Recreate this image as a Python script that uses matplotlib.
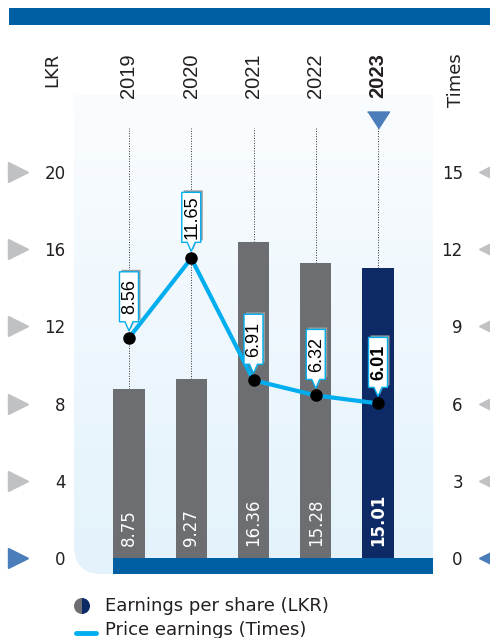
import numpy as np
import matplotlib.pyplot as plt
from matplotlib.path import Path
from matplotlib.patches import PathPatch, Polygon, Rectangle, Wedge
from matplotlib.transforms import Affine2D, blended_transform_factory

years = ["2019", "2020", "2021", "2022", "2023"]
eps = [8.75, 9.27, 16.36, 15.28, 15.01]          # LKR
pe_ratio = [8.56, 11.65, 6.91, 6.32, 6.01]       # Times
lkr_ticks = [0, 4, 8, 12, 16, 20]
times_ticks = [0, 3, 6, 9, 12, 15]

GREY_BAR = "#6d6e71"
NAVY = "#0d2a66"
CYAN = "#00aeef"
BAND = "#005ea2"
TRI_GREY = "#c0c1c3"
TRI_BLUE = "#4a7dba"
TEXT = "#231f20"
ROUND_FONT = "DejaVu Sans"
ARIAL_FONT = "Liberation Sans"

W, H = 490, 638
fig = plt.figure(figsize=(W / 100, H / 100), dpi=100)

# pixel-space layer for the page decorations and legend
deco = fig.add_axes([0, 0, 1, 1])
deco.set_xlim(0, W)
deco.set_ylim(H, 0)
deco.axis("off")
deco.add_patch(Rectangle((9, 8), W - 9, 17, color=BAND, lw=0))

# main plot area
left, right, top, bottom = 74, 433, 95, 574
ax = fig.add_axes([left / W, 1 - bottom / H, (right - left) / W, (bottom - top) / H])
ax.set_facecolor("none")
xlim = (-0.8835, 4.8835)
ylim = (-0.83, 24.0)
for s in ax.spines.values():
    s.set_visible(False)

# gradient panel with a rounded lower-left corner
rx, ry = 28 / (right - left), 28 / (bottom - top)
panel_path = Path([(0, 1), (0, ry), (0, 0), (rx, 0), (1, 0), (1, 1), (0, 1)],
                  [Path.MOVETO, Path.LINETO, Path.CURVE3, Path.CURVE3,
                   Path.LINETO, Path.LINETO, Path.CLOSEPOLY])
panel = PathPatch(panel_path, transform=ax.transAxes, facecolor="none", edgecolor="none")
ax.add_patch(panel)
top_c = np.array([0.98, 0.99, 1.0])
bot_c = np.array([0.89, 0.95, 0.985])
t = np.linspace(0, 1, 256)[:, None]
grad = (top_c * (1 - t) + bot_c * t)[:, None, :]
img = ax.imshow(grad, extent=(xlim[0], xlim[1], ylim[0], ylim[1]), aspect="auto",
                origin="upper", zorder=0)
img.set_clip_path(panel)
ax.set_xlim(*xlim)
ax.set_ylim(*ylim)

x = np.arange(len(years))

# band under the bars
band_x0 = (x[0] - 0.25 - xlim[0]) / (xlim[1] - xlim[0])
ax.axhspan(ylim[0], 0, xmin=band_x0, xmax=1, color=BAND, lw=0, zorder=1)

# dotted guides from the top down to each bar
ax.vlines(x, eps, 22.28, colors="#333333", linestyles=(0, (1, 1.6)), lw=0.7, zorder=1)

bar_colors = [GREY_BAR] * 4 + [NAVY]
ax.bar(x, eps, width=0.5, color=bar_colors, zorder=2)
for i, v in enumerate(eps):
    ax.text(x[i], 0.62, f"{v:.2f}", rotation=90, ha="center", va="bottom",
            color="white", fontsize=12, family=ROUND_FONT,
            fontweight="bold" if i == 4 else "normal", zorder=3)

# year labels and axis titles
for i, yr in enumerate(years):
    ax.text(x[i], 26.17, yr, rotation=90, ha="center", va="top", fontsize=14.5,
            family=ARIAL_FONT, color=TEXT,
            fontweight="bold" if i == 4 else "normal", clip_on=False)
fig.text(52.5 / W, 1 - 53 / H, "LKR", rotation=90, ha="center", va="top",
         fontsize=13, family=ROUND_FONT, color=TEXT)
fig.text(456 / W, 1 - 53 / H, "Times", rotation=90, ha="center", va="top",
         fontsize=13, family=ROUND_FONT, color=TEXT)

# marker above the current year
tri_down = [(-11, 8.5), (11, 8.5), (0, -8.5)]
ax.plot(x[4], 22.72, marker=tri_down, markersize=15.8, color=TRI_BLUE,
        linestyle="none", clip_on=False, zorder=3)

# left axis
ax.set_xticks([])
ax.set_yticks(lkr_ticks)
ax.set_yticklabels([str(v) for v in lkr_ticks], fontsize=12, family=ROUND_FONT, color=TEXT)
ax.tick_params(axis="y", length=0, pad=6)
lt = blended_transform_factory(ax.transAxes, ax.transData)
for v in lkr_ticks:
    ax.plot((18 - left) / (right - left), v, marker=">", markersize=14,
            color=TRI_BLUE if v == 0 else TRI_GREY, transform=lt,
            clip_on=False, linestyle="none")

# right axis for the P/E line
ax2 = ax.twinx()
ax2.set_ylim(ylim[0] * 0.75, ylim[1] * 0.75)
for s in ax2.spines.values():
    s.set_visible(False)
ax2.set_yticks(times_ticks)
ax2.set_yticklabels([str(v) for v in times_ticks], fontsize=12, family=ROUND_FONT,
                    color=TEXT, ha="right")
ax2.tick_params(axis="y", length=0, pad=21.5)
rt = blended_transform_factory(ax2.transAxes, ax2.transData)
for v in times_ticks:
    ax2.plot((489 - left) / (right - left), v, marker="<", markersize=14,
             color=TRI_BLUE if v == 0 else TRI_GREY, transform=rt,
             clip_on=False, linestyle="none")

ax2.plot(x, pe_ratio, color=CYAN, lw=3.0, solid_capstyle="round", zorder=3)
ax2.plot(x, pe_ratio, "o", color="black", markersize=8, zorder=4)

# callout boxes above each point (offsets in pixels)
box_h = 50
callout = [(-9.5, 16), (-4, 16), (0, 7), (4, 16), (9.5, 16),
           (9.5, 16 + box_h), (-9.5, 16 + box_h)]
for i, v in enumerate(pe_ratio):
    px, py = ax2.transData.transform((x[i], v))
    shadow = Polygon([(cx + 2, cy + 2) for cx, cy in callout],
                     transform=Affine2D().translate(px, py), closed=True,
                     facecolor="#9a9a9a", edgecolor="none", zorder=5)
    box = Polygon(callout, transform=Affine2D().translate(px, py), closed=True,
                  facecolor="white", edgecolor=CYAN, lw=1.0, zorder=6)
    ax2.add_artist(shadow)
    ax2.add_artist(box)
    ax2.text(px + 0.5, py + 16 + box_h / 2, f"{v:.2f}", transform=None, rotation=90,
             ha="center", va="center", fontsize=13, family=ARIAL_FONT,
             fontweight="bold" if i == 4 else "normal", color="black", zorder=7)

# legend
deco.add_patch(Wedge((82, 606), 8, 90, 270, color=GREY_BAR, lw=0))
deco.add_patch(Wedge((82, 606), 8, -90, 90, color=NAVY, lw=0))
deco.text(105, 606, "Earnings per share (LKR)", ha="left", va="center",
          fontsize=13, family=ROUND_FONT, color=TEXT)
deco.plot([76, 96], [633, 633], color=CYAN, lw=3.5, solid_capstyle="round")
deco.text(105, 630, "Price earnings (Times)", ha="left", va="center",
          fontsize=13, family=ROUND_FONT, color=TEXT)

fig.savefig("out.png", dpi=100)
